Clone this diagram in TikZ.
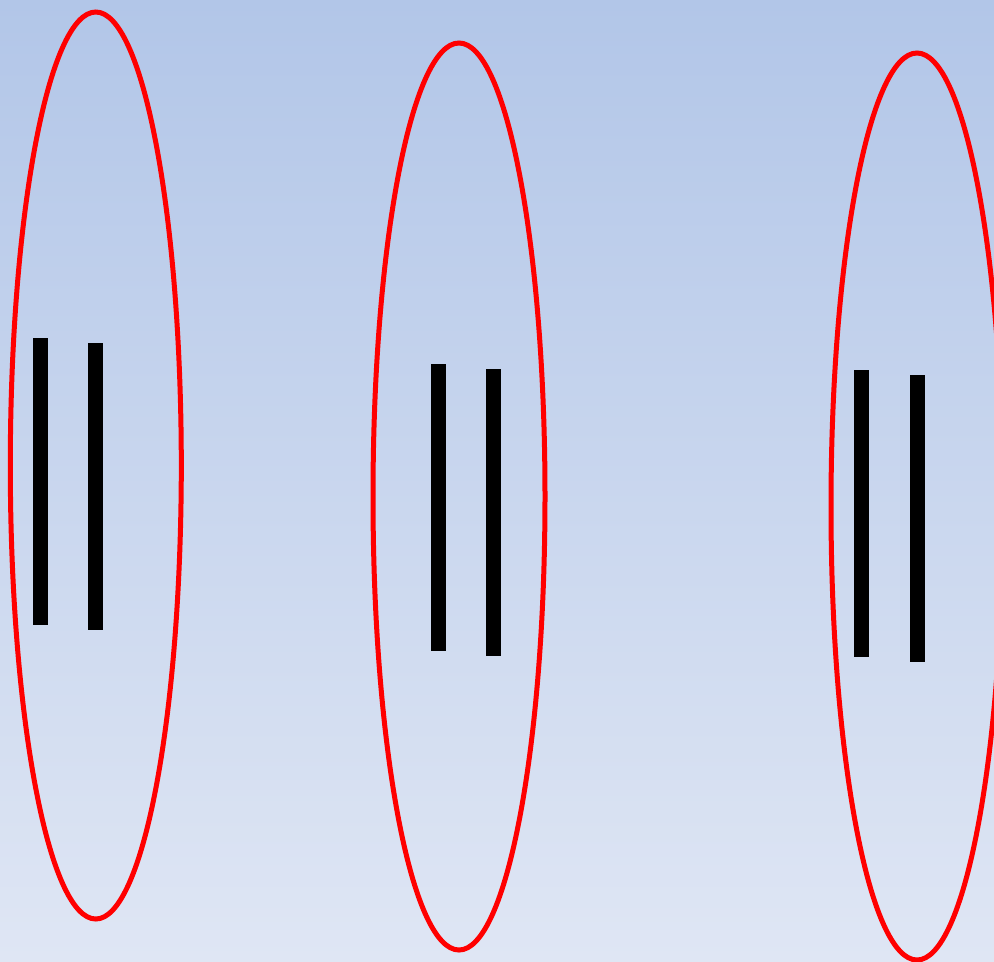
\documentclass[tikz,border=0pt]{standalone}
\begin{document}
\begin{tikzpicture}[x=0.02cm,y=-0.02cm,
  ring/.style={draw={rgb,255:red,255;green,0;blue,0},line width=5*0.02cm},
  bar/.style={fill=black,draw=none}]
\useasboundingbox (0,0) rectangle (994,961);
\clip (0,0) rectangle (994,961);
\shade[top color={rgb,255:red,178;green,198;blue,232},bottom color={rgb,255:red,223;green,230;blue,244}] (0,0) rectangle (994,961);
% ellipses
\draw[ring] (95.8,465.5) ellipse [x radius=85.5, y radius=453.5];
\draw[ring] (459,496.5) ellipse [x radius=86, y radius=453.5];
\draw[ring] (917,506.5) ellipse [x radius=86, y radius=453.5];
% bars
\fill[bar] (33,338) rectangle (48,625);
\fill[bar] (88,343) rectangle (103,630);
\fill[bar] (431,364) rectangle (446,651);
\fill[bar] (486,369) rectangle (501,656);
\fill[bar] (854,370) rectangle (869,657);
\fill[bar] (910,375) rectangle (925,662);
\end{tikzpicture}
\end{document}
